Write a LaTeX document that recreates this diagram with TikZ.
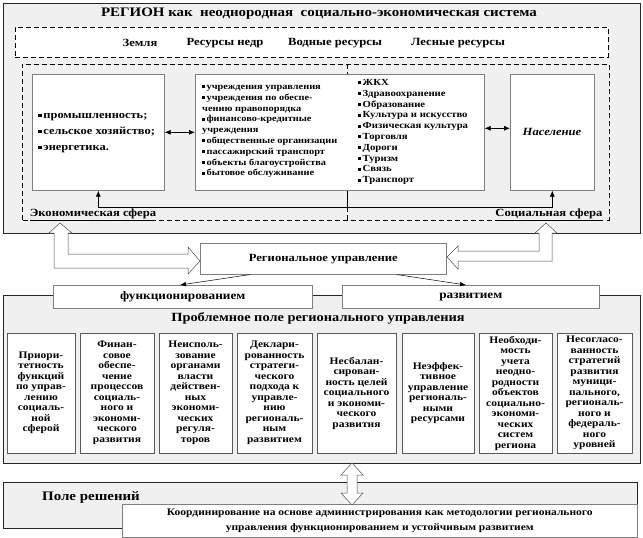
\documentclass[tikz,border=0pt]{standalone}
\usepackage{fontspec}
\setmainfont{Liberation Serif}[FakeStretch=1.15]
\usetikzlibrary{arrows.meta}
\definecolor{panelgray}{HTML}{F0F0F0}
\definecolor{edgegray}{HTML}{7F7F7F}
\newcommand\fsz[2]{\fontsize{#1}{#2}\selectfont}
\newcommand\sqb{\rule[0.12em]{0.32em}{0.32em}\,}
\begin{document}
\begin{tikzpicture}[x=1pt,y=-1pt,
  panel/.style={draw=black!85,line width=0.6pt,fill=panelgray,inner sep=0pt,anchor=north west},
  wbox/.style={draw=edgegray,line width=0.6pt,fill=white,inner sep=0pt,anchor=north west},
  pbox/.style={draw=black!65,line width=0.8pt,fill=white,inner sep=0pt,align=center,font=\bfseries\fsz{10}{10.5}},
  dline/.style={draw=black,line width=0.7pt,dash pattern=on 5pt off 3pt},
  conn/.style={line width=0.7pt,-{Latex[length=6pt,width=5pt]}},
  dconn/.style={line width=0.7pt,{Latex[length=6pt,width=5pt]}-{Latex[length=6pt,width=5pt]}},
  thinconn/.style={line width=0.5pt,-{Latex[length=6pt,width=4.5pt]}},
  blockarrow/.style={fill=white,draw=black!70,line width=0.5pt},
]
\useasboundingbox (0,0) rectangle (643,538);

% ---------- Region panel ----------
\node[panel,minimum width=637pt,minimum height=230pt] (region) at (3,3) {};
\node[font=\bfseries\fsz{13}{15},inner sep=0pt] (title) at (319,14) {РЕГИОН как\ \ неоднородная\ \ социально-экономическая система};

\node[draw=black,line width=0.7pt,dash pattern=on 5pt off 3pt,fill=white,anchor=north west,minimum width=593pt,minimum height=30pt,inner sep=0pt] (res) at (15,27) {};
\node[font=\bfseries\fsz{11}{13},inner sep=0pt] (r1) at (140,43) {Земля};
\node[font=\bfseries\fsz{11}{13},inner sep=0pt] (r2) at (225,43) {Ресурсы недр};
\node[font=\bfseries\fsz{11}{13},inner sep=0pt] (r3) at (335,43) {Водные ресурсы};
\node[font=\bfseries\fsz{11}{13},inner sep=0pt] (r4) at (458,43) {Лесные ресурсы};

% spheres frame
\draw[dline] (22,220) -- (22,64) -- (609,64) -- (609,220) -- cycle;
\draw[dline] (347,64) -- (347,74);
\draw[dline] (347,207) -- (347,220);

\node[wbox,minimum width=132pt,minimum height=116pt] (econ) at (32,74) {};
\node[wbox,minimum width=289pt,minimum height=116pt] (mid) at (195,74) {};
\node[wbox,minimum width=84pt,minimum height=116pt] (pop) at (510,74) {};

\node[font=\bfseries\fsz{10.8}{16},anchor=west,align=left,inner sep=0pt] (econtxt) at (38,133)
 {\sqb промышленность;\\ \sqb сельское хозяйство;\\ \sqb энергетика.};
\node[font=\bfseries\fsz{9}{10.8},anchor=west,align=left,inner sep=0pt] (midl) at (202,131.5)
 {\sqb учреждения управления\\ \sqb учреждения по обеспе-\\ чению правопорядка\\ \sqb финансово-кредитные\\ учреждения\\ \sqb общественные организации\\ \sqb пассажирский транспорт\\ \sqb объекты благоустройства\\ \sqb бытовое обслуживание};
\node[font=\bfseries\fsz{9.3}{10.8},anchor=west,align=left,inner sep=0pt] (midr) at (358,132)
 {\sqb ЖКХ\\ \sqb Здравоохранение\\ \sqb Образование\\ \sqb Культура и искусство\\ \sqb Физическая культура\\ \sqb Торговля\\ \sqb Дороги\\ \sqb Туризм\\ \sqb Связь\\ \sqb Транспорт};
\node[font=\bfseries\itshape\fsz{11}{13},inner sep=0pt] (poptxt) at (552,132) {Население};

\draw[dconn] (econ.east) -- (mid.west);
\draw[dconn] ([yshift=4pt]mid.east) -- ([yshift=4pt]pop.west);
\coordinate (fb) at (347,207);
\draw[line width=0.7pt] (fb |- mid.south) -- (fb);
\draw[conn] (fb) -| (econ.south);
\draw[conn] (fb) -| (pop.south);

\node[font=\bfseries\fsz{11}{13},fill=panelgray,inner sep=1pt] (econlbl) at (93,215) {\underline{Экономическая сфера}};
\node[font=\bfseries\fsz{11}{13},fill=panelgray,inner sep=1pt] (soclbl) at (549,215) {\underline{Социальная сфера}};

% ---------- Regional management ----------
\node[wbox,minimum width=246pt,minimum height=31pt,font=\bfseries\fsz{11}{13}] (regman) at (200,243) {Региональное управление};

% block arrows
\draw[blockarrow] (60,223) -- (72,233) -- (68,233) -- (68,254) -- (188,254) -- (188,247) -- (200,261)
  -- (188,274) -- (188,268) -- (54,268) -- (54,233) -- (49,233) -- cycle;
\draw[blockarrow] (546,223) -- (557,233) -- (552,233) -- (552,261) -- (458,261) -- (458,269) -- (447,257)
  -- (458,246) -- (458,251) -- (539,251) -- (539,233) -- (535,233) -- cycle;

% ---------- Problem field ----------
\node[panel,minimum width=637pt,minimum height=168pt] (prob) at (3,295) {};
\node[wbox,minimum width=259pt,minimum height=23pt,font=\bfseries\fsz{11.5}{13}] (func) at (53,285) {функционированием};
\node[wbox,minimum width=257pt,minimum height=23pt,font=\bfseries\fsz{11.5}{13}] (razv) at (342,285) {развитием};
\draw[thinconn] ([xshift=50pt]regman.south west) -- ([xshift=127pt]func.north west);
\draw[thinconn] ([xshift=197pt]regman.south west) -- ([xshift=124pt]razv.north west);

\node[font=\bfseries\fsz{12.5}{14},inner sep=0pt] (probtitle) at (318,318) {Проблемное поле регионального управления};

\node[pbox,minimum width=68pt,minimum height=120pt] (p1) at (41,393)
 {Приори-\\тетность\\функций\\по управ-\\лению\\социаль-\\ной\\сферой};
\node[pbox,minimum width=74pt,minimum height=120pt] (p2) at (117,393)
 {Финан-\\совое\\обеспе-\\чение\\процессов\\социаль-\\ного и\\экономи-\\ческого\\развития};
\node[pbox,minimum width=73pt,minimum height=120pt] (p3) at (195.5,393)
 {Неисполь-\\зование\\органами\\власти\\действен-\\ных\\экономи-\\ческих\\регуля-\\торов};
\node[pbox,minimum width=75pt,minimum height=120pt] (p4) at (274.5,393)
 {Деклари-\\рованность\\стратеги-\\ческого\\подхода к\\управле-\\нию\\региональ-\\ным\\развитием};
\node[pbox,minimum width=79pt,minimum height=120pt] (p5) at (356.5,393)
 {Несбалан-\\сирован-\\ность целей\\социального\\и экономи-\\ческого\\развития};
\node[pbox,minimum width=72pt,minimum height=120pt] (p6) at (438,393)
 {Неэффек-\\тивное\\управление\\региональ-\\ными\\ресурсами};
\node[pbox,minimum width=73pt,minimum height=120pt] (p7) at (515.5,393)
 {Необходи-\\мость\\учета\\неодно-\\родности\\объектов\\социально-\\экономи-\\ческих\\систем\\региона};
\node[pbox,minimum width=75pt,minimum height=120pt] (p8) at (594.5,393)
 {Несогласо-\\ванность\\стратегий\\развития\\муници-\\пального,\\региональ-\\ного и\\федераль-\\ного\\уровней};

% ---------- Decision field ----------
\node[panel,minimum width=634pt,minimum height=46pt] (dec) at (3,482) {};
\node[font=\bfseries\fsz{13}{15},inner sep=0pt] (dectitle) at (91,497) {Поле решений};
\node[wbox,minimum width=515pt,minimum height=33pt,align=center,font=\bfseries\fsz{10}{15.5}] (coord) at (122,504)
 {Координирование на основе администрирования как методологии регионального\\управления функционированием и устойчивым развитием};

\draw[blockarrow] (352,463) -- (363,475) -- (357,475) -- (357,493) -- (363,493) -- (352,505)
  -- (341,493) -- (347,493) -- (347,475) -- (341,475) -- cycle;
\end{tikzpicture}
\end{document}
